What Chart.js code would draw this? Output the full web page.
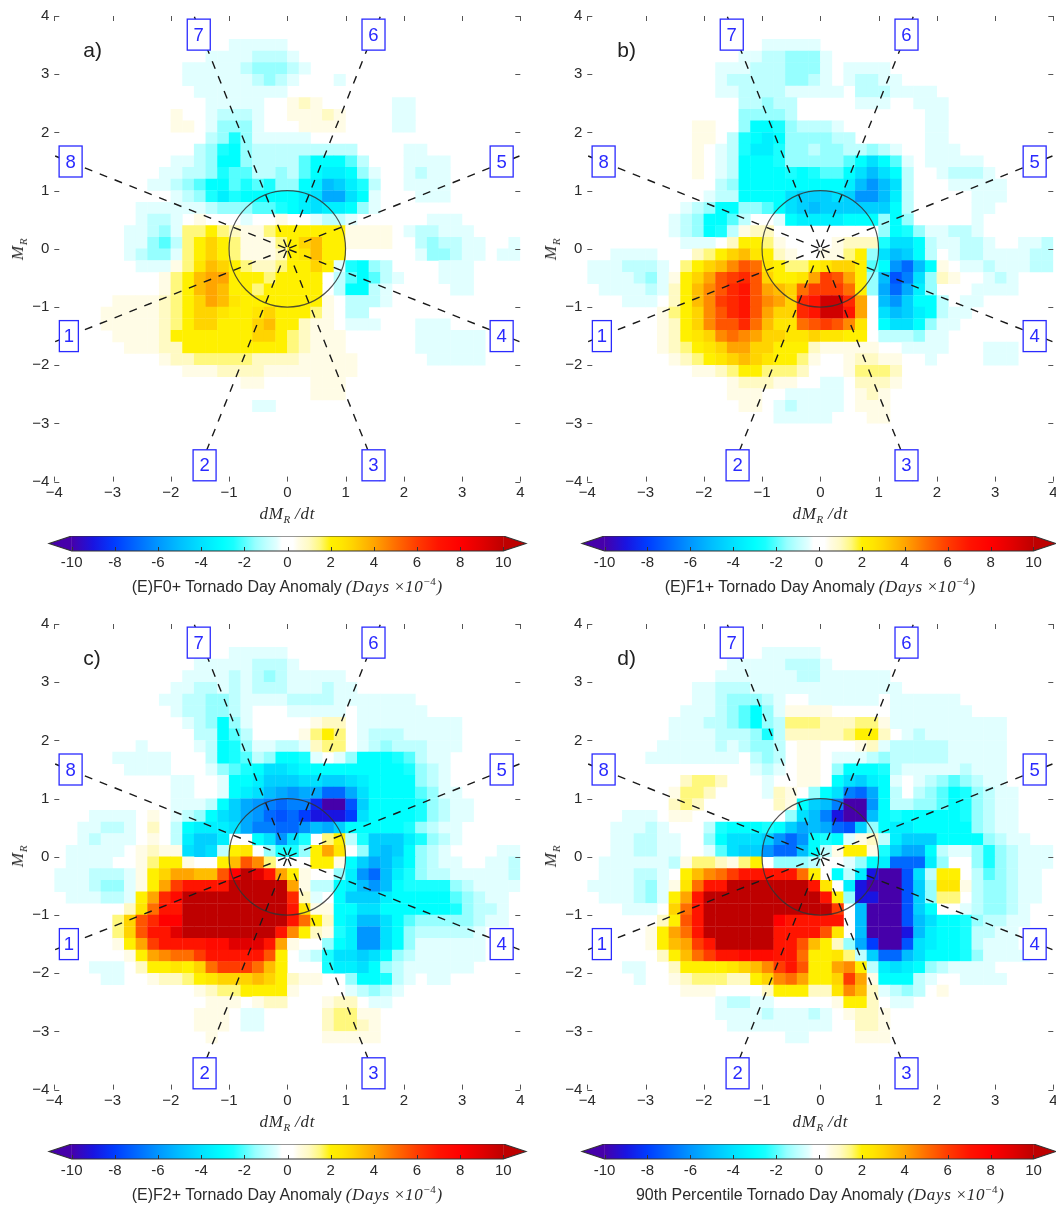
<!DOCTYPE html>
<html><head><meta charset="utf-8">
<script src="https://cdn.jsdelivr.net/npm/chart.js@4/dist/chart.umd.min.js"></script>
<style>
html,body{margin:0;padding:0;background:#fff;width:1056px;height:1205px;overflow:hidden}
#root{position:relative;width:1056px;height:1205px;overflow:hidden}
canvas{position:absolute;filter:blur(.35px)}
.t{position:absolute;white-space:nowrap;color:#2a2a2a;transform:translate(-50%,-50%)}
.s{font:16px "Liberation Sans",sans-serif}
.m{font:italic 17px "Liberation Serif",serif;letter-spacing:.7px}
.m sub{font-size:11px;line-height:0}.m sup{font-size:11px;line-height:0}
.n{font-style:normal}
</style></head><body><div id="root"></div>
<script>
// Cell value = code * codeUnit (x 10^-4 days). Rows: [row from top, first column, codes...]
const codeUnit=0.5;
const xTicks=[-4,-3,-2,-1,0,1,2,3,4];
const yTicks=[-4,-3,-2,-1,0,1,2,3,4];
const colorbarTicks=[-10,-8,-6,-4,-2,0,2,4,6,8,10];
const panelLetters=["a)","b)","c)","d)"];
const panelTitles=["(E)F0+ Tornado Day Anomaly","(E)F1+ Tornado Day Anomaly","(E)F2+ Tornado Day Anomaly","90th Percentile Tornado Day Anomaly"];
const sectorLabels=["1","2","3","4","5","6","7","8"];
const sectorLabelX=[-3.75,-1.42,1.48,3.68,3.68,1.48,-1.52,-3.72];
const sectorLabelY=[-1.5,-3.72,-3.72,-1.5,1.5,3.68,3.68,1.5];
const rayEndX=[-4,-1.6,1.6,4,4,1.6,-1.6,-4];
const rayEndY=[-1.6,-4,-4,-1.6,1.6,4,4,1.6];
const colorStops=[[-10,70,0,170],[-9,25,20,225],[-8,0,60,255],[-7,0,105,255],[-6,0,150,255],[-5,0,190,255],[-4,0,225,255],[-3,0,255,255],[-2.5,25,255,255],[-2,85,255,255],[-1.5,150,255,255],[-1,190,255,255],[-0.5,225,255,255],[-0.25,255,255,255],[0.25,255,255,255],[0.5,255,252,230],[1,255,250,195],[1.5,255,248,125],[2,255,240,0],[2.5,255,230,0],[3,255,212,0],[4,255,165,0],[5,255,110,0],[6,255,60,0],[7,255,20,0],[8,255,0,0],[9,225,0,0],[10,190,0,0]];

const panelA=[
[2,15,-1,-1,-1,-1,-1],
[3,13,-1,-1,-1,-1,-2,-2,-2,-1],
[4,11,-1,-1,-1,-1,-1,-2,-3,-3,-3,-2,-1],
[5,11,-1,-1,-1,-1,-1,-1,-2,-3,-2,-1],[5,24,-1],
[6,12,-1,-1,-1,-1,-1,-1,-1,-1],
[7,13,-1,-1,-1,-1,-1],[7,20,1,2,1],[7,29,-1,-1],
[8,10,1],[8,13,-1,-2,-2,-2,-1],[8,20,1,1,1,2,1],[8,29,-1,-1],
[9,10,1,1],[9,13,-1,-3,-3,-3,-1],[9,21,1,1,1,1],[9,29,-1,-1],
[10,13,-2,-3,-5,-3,-1,-1,-1,-1,-1],
[11,12,-2,-3,-5,-6,-3,-2,-2,-2,-2,-2,-2,-2,-2,-2],[11,30,-1,-1],
[12,10,-1,-1,-2,-3,-6,-6,-3,-2,-2,-2,-2,-4,-6,-6,-6,-4,-2],[12,30,-1,-1,-1,-1],
[13,9,-1,-1,-2,-2,-3,-5,-4,-4,-2,-2,-3,-2,-4,-6,-7,-7,-6,-3,-1],[13,30,-1,-2,-1,-1],
[14,8,-1,-1,-2,-3,-4,-6,-6,-4,-5,-4,-5,-3,-3,-6,-7,-10,-9,-7,-5,-2],[14,30,-1,-1,-1,-1],
[15,10,-1,-2,-3,-5,-7,-5,-6,-6,-6,-6,-6,-7,-8,-11,-11,-8,-6,-1],[15,31,-1,-1,-1],
[16,7,-1,-1,-1,-1,-1,-1,-2,-3,-3,-3,-4,-4,-5,-6,-7,-8,-7,-7,-6,-3,-1],
[17,7,-1,-2,-2,-1],[17,12,1],[17,16,-1],[17,19,1],[17,22,-1,-2,-2,-1],[17,32,-1,-1,-1],
[18,6,-1,-1,-2,-3,-1],[18,11,3,3,4,3,2,1,1,3,4,4,4,4,4,4,1,1,1,1],[18,30,-1,-2,-2,-1,-1,-1],
[19,6,-1,-1,-3,-4,-2],[19,11,3,4,6,4,3,1,1,1,3,4,6,7,4,4,1,1,1,1],[19,31,-2,-3,-2,-2,-1,-1],[19,39,-1],
[20,6,-1,-2,-3,-3,-1],[20,11,3,4,6,4,3,1,1,1,2,4,5,7,4,4],[20,31,-1,-3,-3,-2,-1,-1],[20,38,-1,-1],
[21,7,-1,-1,-1,1,3,5,7,6,4,3,2,2,3,4,4,6,4,-1,-5,-6,-3,-2],[21,33,-1,-1,-1],
[22,9,1,3,4,7,8,8,4,4,4,3,4,4,4,4],[22,24,-2,-4,-6,-4,-2,-1],[22,33,-1,-1,-1],
[23,9,1,3,4,7,8,7,4,4,3,4,4,4,4,4],[23,24,-2,-6,-6,-2,-1],[23,34,-1,-1],
[24,5,1,1,1,1,2,3,4,6,8,7,5,4,4,4,4,4,4,4,1],[24,25,-2,-2,-2,-1],
[25,4,1,1,1,1,1,2,3,4,6,6,5,4,4,5,6,4,4,4,3,1],[25,25,-2,-2],
[26,4,1,1,1,1,1,2,3,4,6,6,4,4,4,6,7,4,4,2,1,1],[26,25,-1,-1,-1],[26,31,-1,-1,-1],
[27,5,1,1,1,1,2,4,4,4,4,4,4,4,6,6,4,3,2,1,1,1],[27,31,-1,-1,-1,-1,-1,-1],
[28,6,1,1,1,2,2,4,4,4,4,4,4,4,4,4,3,2,1,1,1],[28,31,-1,-1,-1,-1,-1,-1],
[29,9,1,2,2,3,3,3,3,3,2,2,2,2,1,1,1,1,1],[29,32,-1,-1,-1,-1,-1],
[30,11,1,1,1,2,2,2,2,1,1,1,1,1,1,1,1],
[31,16,1,1],[31,22,1,1,1],
[32,22,1,1,1],
[33,17,-1,-1]
];
const panelB=[
[2,15,-1,-1,-1,-1,-1],
[3,13,-1,-1,-2,-2,-3,-3,-3,-1],
[4,11,-1,-1,-1,-2,-2,-2,-3,-3,-3,-1],[4,22,-1,-1,-1,-1],
[5,11,-1,-2,-2,-2,-2,-2,-3,-3,-2,-1],[5,22,-1,-2,-2,-1,-1],
[6,11,-1,-1,-2,-2,-2,-2,-1,-1,-1,-1,-1],[6,23,-2,-2,-2,-1,-1,-1,-1],
[7,13,-2,-2,-3,-2,-2],[7,23,-1,-1,-1],[7,28,-1,-1,-1],
[8,13,-3,-3,-3,-3,-2],[8,29,-1,-1],
[9,9,1,1],[9,13,-3,-6,-6,-5,-3,-2,-2,-2,-1],[9,29,-1,-1],
[10,9,1,1],[10,12,-2,-5,-6,-7,-6,-3,-3,-3,-3,-2,-2],[10,29,-1,-1],
[11,9,1],[11,11,-1,-2,-5,-7,-7,-5,-3,-3,-2,-3,-3,-2,-2,-3,-2,-1],[11,29,-1,-1,-1],
[12,9,1],[12,11,-1,-2,-6,-6,-6,-5,-3,-3,-3,-3,-3,-4,-6,-8,-6,-4,-1],[12,29,-1,-1,-1,-1,-1],
[13,9,1],[13,11,-1,-2,-6,-6,-6,-6,-5,-6,-5,-4,-4,-6,-8,-10,-8,-6,-2],[13,30,-1,-2,-2,-2,-1],
[14,11,-2,-3,-6,-6,-6,-6,-6,-6,-6,-6,-6,-7,-10,-12,-10,-8,-2],[14,31,-1,-1,-1,-1,-1],
[15,10,-1,-2,-2,-6,-6,-6,-6,-8,-9,-9,-9,-8,-9,-12,-12,-10,-7,-2],[15,33,-1,-1,-1],
[16,8,-1,-2,-3,-6,-6,-3,-3,-4,-6,-8,-9,-10,-9,-9,-9,-9,-9,-9,-6,-2],[16,33,-1,-1],
[17,7,-1,-2,-3,-6,-6,-4,-2],[17,16,-1,-6,-7,-7,-7,-7,-6,-6,-6,-3,-6,-3],[17,33,-1],
[18,7,-1,-2,-3,-6,-5,-2,1,2,2],[18,25,-3,-6,-5,-3,-1,-1,-2,-2,-1],
[19,8,-1,-1,-1],[19,12,2,4,4,3,1],[19,21,1,2,2,2,-5,-8,-8,-6,-2,-1,-1,-2,-2,-1],[19,37,-1,-1,-2],
[20,2,-1,-1,-1,-1],[20,9,2,3,4,6,7,5,4,2,1,0,0,1,1,3,4,-3,-8,-10,-9,-6,-2,0,-1,-2,-2,-1,-1,-1,-1,-2,-2],
[21,0,-1,-1,-1,-2,-2,-2,-1],[21,8,3,4,6,7,9,11,10,5,4,3,3,4,5,6,6,4,-4,-6,-12,-14,-10,-6,1,0,-1,-1,-2,-1,-1,-1,-2,-2],
[22,0,-1,-1,-1,-1,-2,-3,-1,1,4,6,8,11,12,13,11,6,4,4,5,8,12,11,8,4,-3,-10,-15,-13,-8,-3,2,1],[22,34,-1,-2,-1],
[23,1,-1,-1,-1,-1,-2,-1,2,4,7,9,11,13,14,11,8,7,6,10,12,12,12,10,4,-3,-11,-14,-11,-7,-3],[23,33,-1,-1,-1,-1],
[24,3,-1,-1,-1],[24,7,2,4,7,9,12,13,14,11,9,8,6,13,14,19,19,13,8],[24,25,-10,-12,-9,-6,-6,-2],[24,32,-1,-1],
[25,6,1,3,4,6,9,11,13,14,11,8,6,6,13,14,19,19,14,8],[25,25,-8,-10,-9,-7,-6,-2,-1,-1],
[26,6,1,2,4,6,9,11,11,13,10,7,5,5,10,11,12,11,9,5],[26,25,-6,-8,-8,-6,-3,-1,-1],
[27,6,1,2,4,5,6,9,10,9,8,6,6,5,5,6,5,5,4,4],[27,25,-2,-2,-2,-3,-1,-1],
[28,6,1,2,3,4,5,6,8,8,6,6,4,4,4,2,1,1,1,1,1],[28,27,-1,-1,-1,-1],[28,34,-1,-1,-1],
[29,7,1,2,3,4,5,6,7,6,5,4,4,3,1],[29,22,1,2,2,1,1],[29,29,-1],[29,34,-1,-1,-1],
[30,9,1,1,2,3,4,4,3,3,3,2],[30,22,1,3,3,3,2],
[31,12,1,2,2,2,1,1],[31,20,-1,-1],[31,23,2,2,2,1],
[32,12,1,1,1],[32,17,-1,-1,-1,-1,-1],[32,23,1,2,1],
[33,13,1,1],[33,16,-1,-2,-1,-1,-1,-1],[33,23,1,1,1],
[34,16,-1,-1,-1,-1,-1],[34,24,1,1]
];
const panelC=[
[2,15,-1,-1,-1,-1,-1],
[3,12,-1,-1,-1,-1,-1,-2,-2,-2,-1],
[4,11,-1,-1,-1,-1,-2,-1,-2,-3,-2,-1,-1,-1,-1,-1],
[5,10,-1,-1,-2,-2,-1,-2,-1,-2,-2,-2,-1,-1,-1,-2,-1,-1],
[6,9,-1,-1,-2,-2,-3,-3,-2,-1,-1,-1,-1,-2,-2,-2,-2,-1,-1,-1,-1,-1,-1,-1],
[7,10,-1,-2,-2,-3,-3,-2,-1],[7,20,-1,-1,-1,-1,-1,0,-1,-1,-1,-1,-1,-1],
[8,11,-1,-2,-3,-6,-3,-1],[8,22,1,2,2],[8,26,-1,-1,-1,-1,-1,-1,-1,-1,-1],
[9,12,-2,-2,-6,-4,-2],[9,21,1,3,4,3],[9,26,-1,-2,-2,-2,-1,-1,-1,-1,-1],
[10,7,-1],[10,12,-1,-2,-6,-5,-3,-1,-1,-2,-2,-1,2,3,3],[10,26,-1,-2,-3,-2,-2,-2,-1,-1,-1],
[11,5,-1,-1,-1,-1,-1],[11,13,-2,-6,-5,-4,-2,-3,-6,-6,-5,-1,0,-1,-3,-6,-6,-6,-5,-4,-2,-1,-1],
[12,6,-1,-1,-1,-1],[12,13,-1,-3,-4,-5,-6,-8,-8,-7,-6,-6,-6,-6,-6,-6,-6,-6,-6,-5,-3,-2,-1],
[13,10,-1,-1],[13,14,-1,-6,-6,-7,-9,-9,-9,-8,-8,-9,-9,-8,-7,-6,-6,-6,-6,-3,-2,-1],
[14,10,-1,-1],[14,14,-1,-6,-7,-8,-10,-11,-12,-11,-11,-14,-14,-11,-8,-6,-6,-6,-6,-4,-3,-1,-1],
[15,10,-1,-1,-1,-2,-6,-9,-11,-12,-13,-14,-13,-13,-17,-20,-20,-15,-9,-6,-6,-6,-6,-5,-3,-2,-1,-1],
[16,3,-1,-1,-1,-1],[16,8,1],[16,10,-1,-2,-3,-6,-8,-9,-11,-12,-14,-15,-14,-16,-18,-18,-18,-16,-8,-6,-6,-6,-6,-5,-3,-2,-1,-1],
[17,2,-1,-1,-2,-2,-1],[17,8,2],[17,10,-2,-6,-7,-7,-7,-8,-11,-13,-13,-14,-14,-12,-10,-11,-9,-6,-6,-6,-6,-6,-5,-3,-2,-1,-1],
[18,2,-1,-2,-1,-1,-1],[18,8,1],[18,10,-2,-7,-9,-9,-7],[18,17,-6,-8,-12,-8,-5],[18,23,3,4,-2,-5,-9,-9,-9,-7,-5,-3,-2,-1],
[19,1,-1,-1,-1,-1,-1],[19,7,1,2,1,1,-8,-9,-8,-2,4,5,0,-3,-5,-5,-3,4,8,5,0,-3,-9,-10,-9,-6,-3,-2,-1],[19,38,-1,-1],
[20,1,-1,-1,-1,-1],[20,7,1,3,4,4,1],[20,14,4,7,11,9,3],[20,22,4,4,1,-6,-9,-11,-10,-8,-6,-3,-2,-1,-1],[20,37,-1,-1,-2],
[21,0,-1,-1,-1,-2,-2,-2,-1,1,4,6,8,8,7,7,11,16,20,18,14,8,4,1],[21,24,-3,-7,-12,-14,-10,-7,-5,-3,-2,-2,-1,-1,-1,-1,-1,-2],
[22,0,-1,-1,-1,-2,-3,-3,-1,1,4,8,12,14,14,14,14,20,20,20,20,20,8,1,-2,-2,-6,-7,-10,-12,-10,-6,-5,-5,-5,-5,-3,-2,-1,-1,-1,-1],
[23,1,-1,-1,-1,-2,-2,-1,4,8,13,15,20,20,20,20,20,20,20,20,20,13,2,-1,0,-6,-9,-9,-9,-7,-6,-6,-6,-6,-6,-4,-3,-2,-1,-1],
[24,6,2,5,10,14,14,20,20,20,20,20,20,20,20,20,14,5,1,1,-6,-6,-8,-8,-6,-6,-6,-6,-6,-6,-5,-3,-2,-2,-1],
[25,5,3,6,11,13,16,16,20,20,20,20,20,20,20,20,20,14,10,4,2,-6,-7,-10,-10,-8,-6,-4,-3,-3,-3,-3,-3,-2,-1,-1],
[26,5,3,6,11,14,14,18,20,20,20,20,20,20,20,20,14,9,4,2,1,-5,-7,-12,-12,-8,-6,-3,-2,-2,-2,-2,-2,-1],
[27,5,1,4,8,12,14,14,14,14,15,15,18,18,18,14,8,1],[27,23,-3,-6,-7,-12,-12,-8,-6,-3,-1,-1,-1,-1,-1,-1],
[28,6,1,4,8,9,10,10,12,14,14,14,14,14,11,4,0,-1,-2,-5,-8,-8,-9,-8,-6,-3,-2,-1,-1,-1,-1,-1,-1],
[29,3,-1,-1,-1],[29,7,2,4,4,5,4,6,10,12,12,12,10,7,4],[29,23,-5,-7,-7,-8,-6,-3,-2,-1,-1,-1,-1,-1,-1],
[30,4,-1,-1],[30,8,1,2,2,3,4,5,6,6,6,7,6,4,2,1,1],[30,25,-3,-6,-6,-5,-2,-1],[30,32,-1,-1],
[31,12,1,2,3,3,4,4,4,4,1],[31,25,-1,-2,-3,-2,-1],
[32,13,1,1,1],[32,17,1,2,2],[32,23,1,2,2],[32,27,-1,-1],
[33,12,1,1,1],[33,16,-1,-1],[33,23,2,3,3,1,1],
[34,12,1,1,1],[34,16,-1,-1],[34,23,2,3,3,2,1],
[35,13,1],[35,23,1,1,1,1,1]
];
const panelD=[
[2,15,-1,-1,-1,-1,-1],
[3,12,-1,-1,-1,-1,-1,-2,-2,-2,-1],
[4,11,-1,-1,-1,-1,-1,-1,-1,-2,-2,-1,-1,-1,-1,-1,-1],
[5,9,-1,-1,-2,-2,-2,-1,-1,-1,-1,-1,-1,-1,-1,-1,-1,-1,-1,-1],
[6,9,-1,-1,-2,-3,-3,-3,-2,-1],[6,19,-1,-1,-1,-1,-1,-1],[6,26,-1,-1,-1,-1,-1,-1],
[7,8,-1,-1,-1,-2,-3,-4,-6,-3,-1,1,1,1,1],[7,26,-1,-1,-1,-1,-1,-1,-1],
[8,7,-1,-1,-1,-2,-2,-3,-4,-6,-3,-2,3,3,3,2,2,2,3,3,1,-1,-1,-1,-1,-1,-1,-1,-1,-1,-1],
[9,7,-1,-1,-1,-1,-2,-2,-2,-3,-5,-2,2,2,2,2,2,3,4,4,2],[9,27,-1,-2,-1,-1,-1,-1,-1,-1,-1],
[10,6,-1,-1,-1,-1,-1,-2,-1,-2,-3,-3,-2,0,1,1],[10,23,1,2,-1,-2,-2,-2,-2,-2,-1,-1,-1,-1,-1],
[11,5,-1,-1,-1,-1,-1,-1,-1,-1],[11,14,-2,-3,-2,0,1,1,0,-1,-1,-1,-2,-3,-2,-2,-2,-2,-2,-1,-1,-1,-1,-1],
[12,14,-1,-2,-1,0,1,1,0,-3,-6,-6,-6,-5,-2,-1,-1,-1,-1,-1,-2,-1,-1,-1],
[13,8,2,3,3,2],[13,15,-1,0,0,1,1,0,-6,-8,-9,-7,-6,-1,0,-1,-2,-3,-4,-3,-2,-1,-1],
[14,7,1,3,3,2],[14,15,-1,2,1,0,-3,-6,-8,-13,-14,-11,-6,-2,0,-2,-3,-4,-6,-5,-3,-2,-1,-1],
[15,7,2,3,2],[15,16,2,1,-6,-9,-10,-13,-20,-20,-12,-6,-2,-2,-3,-3,-4,-6,-5,-3,-2,-1,-1],
[16,3,-1,-1,-1,0,1,1],[16,17,-3,-8,-10,-13,-18,-20,-20,-10,-6,-5,-6,-6,-6,-6,-6,-5,-3,-2,-1,-1],
[17,2,-1,-1,-1,-2,-1],[17,10,-2,-5,-6,-6,-6,-5,-6,-9,-11,-10,-11,-14,-15,-9,-3,-6,-7,-7,-6,-6,-6,-6,-6,-3,-2,-1,-1],
[18,2,-1,-1,-2,-2,-1,-1],[18,10,-3,-6,-8,-8,-8,-9,-12,-14,-12,-6,-5,-6,-1,1,2,-2,-7,-9,-9,-9,-6,-6,-6,-6,-3,-2,-1,-1],
[19,2,-1,-1,-2,-2,-1,-1],[19,10,-1,-4,-8,-9,-9,-12,-14,-14,-10,-6,-2,1,4,4,1,-5,-9,-11,-11,-6,-2,-1,-1,-3,-5,-3,-2,-1,-1,-1],
[20,1,-1,-1,-1,-1,-1,-1,-2],[20,8,1,3,3,2,1,3,4,0,-3,-3,-3,-2,0,0,-1,-3,-6,-7,-14,-14,-14,-7,-3],[20,33,-3,-5,-3,-2,-1,-1,-1],
[21,1,-1,-1,-1,-2,-2,-1,0,4,7,9,10,12,14,14,14,14,14,10,4,0,-6,-2,-7,-18,-20,-20,-15,-8,-2,4,4,0,-2,-4,-3,-2,-1,-1],
[22,0,-1,-1,-1,-1,-2,-3,-1,1,5,10,14,14,20,20,20,20,20,20,20,14,5,0,-7,-18,-20,-20,-20,-15,-9,-3,5,5,1,-2,-3,-3,-2,-1,-1],
[23,1,-1,-1,-1,-2,-3,-1,4,8,14,20,20,20,20,20,20,20,20,20,20,14,4,-3,-18,-18,-20,-20,-15,-9,-3,3,3,0,-2,-3,-3,-2,-1,-1],
[24,3,-1,-1,-1,0,6,10,14,20,20,20,20,20,20,20,20,20,20,20,12,0,-10,-20,-20,-20,-15,-9,-6,0,0,-1,-2,-3,-3,-2,-1],
[25,6,2,4,11,14,20,20,20,20,20,20,16,14,14,14,14,14,0,-10,-20,-20,-20,-15,-10,-8,-6,-6,-5,-3,-2,-2,-1,-1],
[26,5,1,4,8,10,14,20,20,20,20,20,20,14,14,14,14,11,5,0,-10,-20,-20,-20,-18,-10,-7,-6,-6,-5,-2,-2,-1,-1],
[27,5,1,4,7,8,12,14,20,20,20,20,20,14,14,11,7,4,2,-3,-11,-16,-20,-20,-15,-8,-7,-6,-6,-5,-2,-1,-1,-1],
[28,6,2,4,7,10,12,14,14,15,15,15,14,14,10,4,4,5,3,-2,-9,-14,-14,-10,-8,-6,-6,-6,-5,-3,-1,-1,-1,-1],
[29,3,-1,-1],[29,7,2,4,4,4,4,5,6,7,9,12,14,11,4,4,8,9,4,-2,-7,-8,-7,-6,-3,-2,-1,-1,-1,-1],
[30,4,-1],[30,7,1,2,3,3,3,2,2,4,6,9,10,8,4,4,6,12,8,1,-6,-6,-6,-2,-1],[30,32,-1,-1,-1,-1],
[31,8,1,1,1],[31,15,2,4,4,4,2,2,5,9,7,2,-1,-2,-3,-2,0,1],
[32,11,-1,-2,-2,-1,-1],[32,21,1,4,4,2],[32,26,-1,-1],
[33,11,-1,-1,-1,-1,-2,-1,-1,-1,-2,-1,0,1,2,2,1],
[34,12,-1,-1,-1,-1,-1,-1,-1,-1,-1],[34,23,2,2,1],
[35,17,-1,-1],[35,23,1,1,1]
];
const panelRows=[panelA,panelB,panelC,panelD];

function colorOf(v){
  if(v<=colorStops[0][0])return `rgb(${colorStops[0].slice(1)})`;
  for(let i=1;i<colorStops.length;i++){
    const b=colorStops[i],a=colorStops[i-1];
    if(v<=b[0]){const t=(v-a[0])/(b[0]-a[0]);
      return `rgb(${[1,2,3].map(k=>Math.round(a[k]+(b[k]-a[k])*t))})`;}
  }
  return `rgb(${colorStops[colorStops.length-1].slice(1)})`;
}
function cells(rows){
  const out=[];
  rows.forEach(r=>{for(let k=2;k<r.length;k++){if(!r[k])continue;
    out.push({x:-3.9+0.2*(r[1]+k-2),y:3.9-0.2*r[0],v:r[k]*codeUnit});}});
  return out;
}
const root=document.getElementById('root');
function addCanvas(l,t,w,h){const c=document.createElement('canvas');
  c.width=w;c.height=h;c.style.cssText=`left:${l}px;top:${t}px;width:${w}px;height:${h}px`;root.appendChild(c);return c;}
function addText(l,t,html,cls,extra){const d=document.createElement('div');d.className='t '+cls;d.style.left=l+'px';d.style.top=t+'px';
  d.innerHTML=html;if(extra)d.style.transform=extra;root.appendChild(d);}
const fitBox=(prop,val)=>s=>{s[prop]=val;s.paddingLeft=s.paddingRight=s.paddingTop=s.paddingBottom=0;};
const INK='#2a2a2a';

const decor={id:'decor',
  afterDatasetsDraw(ch,_,o){
    const c=ch.ctx,a=ch.chartArea,X=ch.scales.x,Y=ch.scales.y;
    c.save();
    // sector label boxes
    c.font='18.5px "Liberation Sans",sans-serif';c.textAlign='center';c.textBaseline='middle';
    sectorLabels.forEach((s,i)=>{
      const px=X.getPixelForValue(sectorLabelX[i]),py=Y.getPixelForValue(sectorLabelY[i]);
      const w=s==='1'?19:23,h=31;
      c.fillStyle='#fff';c.fillRect(px-w/2,py-h/2,w,h);
      c.strokeStyle='#2a2aff';c.lineWidth=1.3;c.strokeRect(px-w/2,py-h/2,w,h);
      c.fillStyle='#2a2aff';c.fillText(s,px,py+1);
    });
    // inward axis ticks on all four sides
    c.strokeStyle='#555';c.lineWidth=1;c.beginPath();
    xTicks.forEach(v=>{const p=Math.round(X.getPixelForValue(v))+.5;
      c.moveTo(p,a.top);c.lineTo(p,a.top+5);c.moveTo(p,a.bottom);c.lineTo(p,a.bottom-5);});
    yTicks.forEach(v=>{const p=Math.round(Y.getPixelForValue(v))+.5;
      c.moveTo(a.left,p);c.lineTo(a.left+5,p);c.moveTo(a.right,p);c.lineTo(a.right-5,p);});
    c.stroke();
    // panel letter
    c.fillStyle='#222';c.font='21px "Liberation Sans",sans-serif';c.textAlign='left';c.textBaseline='alphabetic';
    c.fillText(o.letter,a.left+o.letterDx,a.top+41);
    c.restore();
  }};

function heat(idx,left,top){
  const W=left>500?523:528,H=505,plotLeft=54.3,plotH=465.6,plotW=466;
  const cv=addCanvas(left,top-16,W,H);
  const cellData=cells(panelRows[idx]);
  new Chart(cv,{type:'scatter',plugins:[decor],
    data:{datasets:[
      ...rayEndX.map((x,i)=>({label:'ray'+(i+1),data:[{x:0,y:0},{x,y:rayEndY[i]}],showLine:true,pointRadius:0,
         borderColor:'#1a1a1a',borderWidth:1.4,borderDash:[8,8],borderDashOffset:14,order:1})),
      {label:'unit circle',data:[{x:0,y:0}],pointStyle:'circle',order:2,
        pointBackgroundColor:'rgba(0,0,0,0)',pointBorderColor:'rgba(50,50,50,.85)',pointBorderWidth:1.2,
        pointRadius:c=>{const s=c.chart.scales.x;return s.getPixelForValue(1)-s.getPixelForValue(0);}},
      {label:'anomaly',data:cellData,pointStyle:'rect',order:3,pointBorderWidth:0,
        pointBackgroundColor:c=>colorOf(c.raw.v),
        pointRadius:c=>{const s=c.chart.scales.x;return ((s.getPixelForValue(0.2)-s.getPixelForValue(0))+.4)/Math.SQRT2;}}
    ]},
    options:{responsive:false,animation:false,events:[],
      layout:{padding:{left:0,right:W-plotLeft-plotW,top:16,bottom:0}},
      plugins:{legend:{display:false},tooltip:{enabled:false},decor:{letter:panelLetters[idx],letterDx:idx%2?30:29}},
      scales:{
        x:{type:'linear',min:-4,max:4,afterFit:fitBox('height',H-16-plotH),
          afterBuildTicks:s=>{s.ticks=xTicks.map(value=>({value}));},
          grid:{display:false,drawTicks:false},border:{display:false},
          ticks:{color:INK,autoSkip:false,maxRotation:0,padding:2.5,font:{family:'"Liberation Sans"',size:15},
            callback:v=>v<0?'\u2212'+(-v):String(v)}},
        y:{type:'linear',min:-4,max:4,afterFit:fitBox('width',plotLeft),
          afterBuildTicks:s=>{s.ticks=yTicks.map(value=>({value}));},
          grid:{display:false,drawTicks:false},border:{display:false},
          ticks:{color:INK,autoSkip:false,padding:5,font:{family:'"Liberation Sans"',size:15},
            callback:v=>v<0?'\u2212'+(-v):String(v)}}
      }}});
}
const cbDecor={id:'cbDecor',
  beforeDatasetsDraw(ch){
    const c=ch.ctx,a=ch.chartArea,X=ch.scales.x;
    const l=X.getPixelForValue(-10),r=X.getPixelForValue(10),m=(a.top+a.bottom)/2;
    c.save();
    c.beginPath();c.moveTo(l,a.top);c.lineTo(a.left,m);c.lineTo(l,a.bottom);c.closePath();c.fillStyle=colorOf(-10);c.fill();
    c.beginPath();c.moveTo(r,a.top);c.lineTo(a.right,m);c.lineTo(r,a.bottom);c.closePath();c.fillStyle=colorOf(10);c.fill();
    c.restore();
  },
  afterDatasetsDraw(ch){
    const c=ch.ctx,a=ch.chartArea,X=ch.scales.x;
    const l=X.getPixelForValue(-10),r=X.getPixelForValue(10),m=(a.top+a.bottom)/2;
    c.save();c.strokeStyle='#333';c.lineWidth=1.1;c.beginPath();
    c.moveTo(l,a.top);c.lineTo(r,a.top);c.lineTo(a.right,m);c.lineTo(r,a.bottom);c.lineTo(l,a.bottom);c.lineTo(a.left,m);c.closePath();c.stroke();
    c.lineWidth=1;c.beginPath();
    colorbarTicks.forEach(v=>{const p=Math.round(X.getPixelForValue(v))+.5;c.moveTo(p,a.bottom);c.lineTo(p,a.bottom-4);});
    c.stroke();c.restore();
  }};
function colorbar(left,top){
  const W=left>500?523:528,H=40,aL=49,aW=477,aH=15;
  const cv=addCanvas(left,top,W,H);
  new Chart(cv,{type:'bar',plugins:[cbDecor],
    data:{labels:['scale'],datasets:[{data:[[-10,10]],barPercentage:1,categoryPercentage:1,borderWidth:0,
      backgroundColor:c=>{const ch=c.chart,a=ch.chartArea;if(!a)return '#fff';
        const X=ch.scales.x,g=ch.ctx.createLinearGradient(X.getPixelForValue(-10),0,X.getPixelForValue(10),0);
        colorStops.forEach(s=>g.addColorStop((s[0]+10)/20,`rgb(${s.slice(1)})`));return g;}}]},
    options:{indexAxis:'y',responsive:false,animation:false,events:[],
      layout:{padding:{left:0,right:W-aL-aW,top:0,bottom:0}},
      plugins:{legend:{display:false},tooltip:{enabled:false}},
      scales:{
        y:{display:true,afterFit:fitBox('width',aL),grid:{display:false,drawTicks:false},border:{display:false},ticks:{display:false}},
        x:{type:'linear',min:-11.05,max:11.05,afterFit:fitBox('height',H-aH),
          afterBuildTicks:s=>{s.ticks=colorbarTicks.map(value=>({value}));},
          grid:{display:false,drawTicks:false},border:{display:false},
          ticks:{color:INK,autoSkip:false,maxRotation:0,padding:2.7,font:{family:'"Liberation Sans"',size:15},
            callback:v=>String(v)}}
      }}});
}
const mathUnits='(<i>Days</i> <span class="n">×</span>10<sup class="n">−4</sup>)';
[[0,0,16],[1,533,16],[2,0,623.5],[3,533,623.5]].forEach(([i,l,t])=>{
  heat(i,l,t);
  colorbar(l,t+520);
  const cx=l+287.3,dy=t-16;
  addText(cx,514+dy,'<i>dM<sub>R</sub></i>&#8201;/<i>dt</i>','m');
  addText(l+18,248.7+dy,'<i>M<sub>R</sub></i>','m','translate(-50%,-50%) rotate(-90deg)');
  addText(cx,587+dy,`<span class="s">${panelTitles[i]}</span> <span class="m">${mathUnits}</span>`,'');
});
</script></body></html>
